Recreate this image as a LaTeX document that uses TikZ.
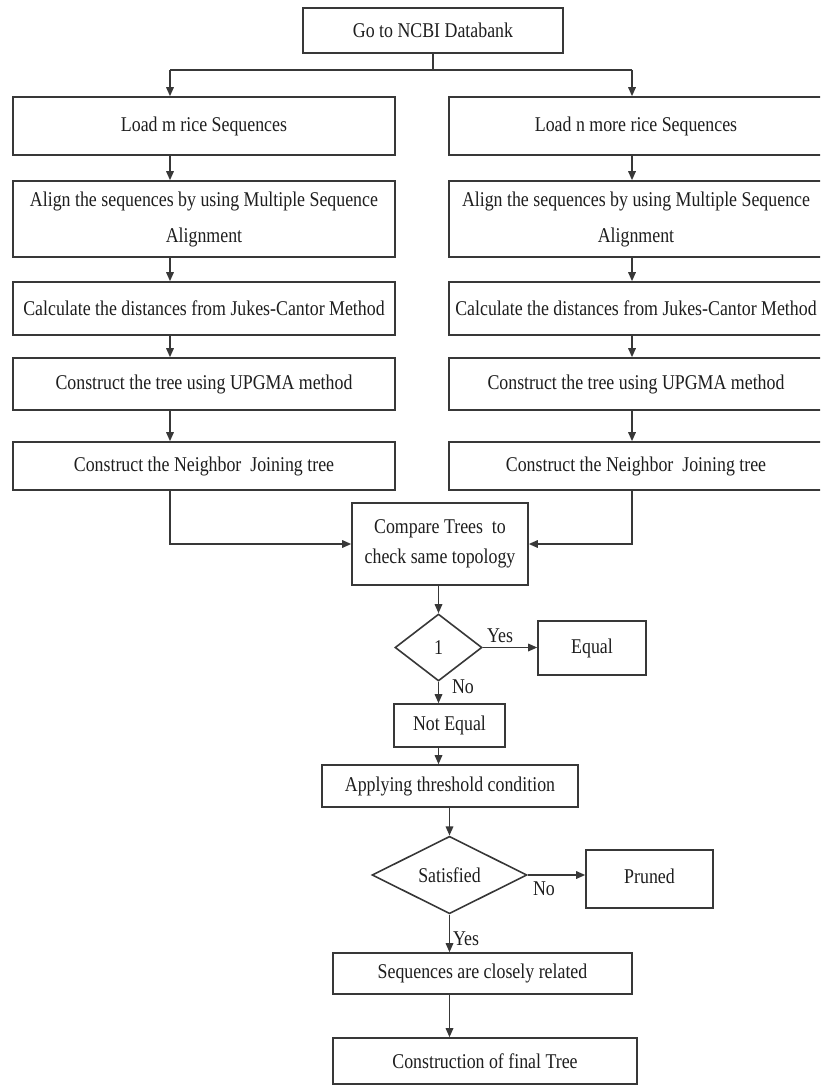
\documentclass[tikz,border=0pt]{standalone}
\usepackage{fontspec}
\setmainfont{Liberation Serif}[FakeStretch=0.85]
\usetikzlibrary{arrows.meta,shapes.geometric}
\definecolor{lncol}{HTML}{383838}
\definecolor{txcol}{HTML}{1E1E1E}
\begin{document}
\begin{tikzpicture}[x=1pt,y=-1pt,
  box/.style={draw=lncol,line width=1.6pt,inner sep=0pt,text=txcol,align=center,font=\fontsize{21}{36}\selectfont},
  dia/.style={draw=lncol,line width=1.6pt,diamond,inner sep=0pt,text=txcol,font=\fontsize{21}{24}\selectfont},
  conn/.style={draw=lncol,line width=1.6pt},
  arr/.style={draw=lncol,line width=1.6pt,-{Triangle[length=9pt,width=7.5pt]}},
  lab/.style={text=txcol,inner sep=0pt,font=\fontsize{21}{24}\selectfont}]
\useasboundingbox (0,0) rectangle (820,1086);
\clip (0,0) rectangle (820,1086);
\fill[white] (0,0) rectangle (820,1086);

\node[box,minimum width=260,minimum height=45] (top) at (433,30.5) {Go to NCBI Databank};

\node[box,minimum width=382,minimum height=58] (L1) at (204,126) {\raisebox{4pt}{Load m rice Sequences}};
\node[box,minimum width=374,minimum height=58] (R1) at (636,126) {\raisebox{4pt}{Load n more rice Sequences}};
\node[box,minimum width=382,minimum height=76] (L2) at (204,219) {Align the sequences by using Multiple Sequence\\Alignment};
\node[box,minimum width=374,minimum height=76] (R2) at (636,219) {Align the sequences by using Multiple Sequence\\Alignment};
\node[box,minimum width=382,minimum height=53] (L3) at (204,308.5) {Calculate the distances from Jukes-Cantor Method};
\node[box,minimum width=374,minimum height=53] (R3) at (636,308.5) {Calculate the distances from Jukes-Cantor Method};
\node[box,minimum width=382,minimum height=52] (L4) at (204,384) {Construct the tree using UPGMA method};
\node[box,minimum width=374,minimum height=52] (R4) at (636,384) {Construct the tree using UPGMA method};
\node[box,minimum width=382,minimum height=48] (L5) at (204,466) {Construct the Neighbor\ \ Joining tree};
\node[box,minimum width=374,minimum height=48] (R5) at (636,466) {Construct the Neighbor\ \ Joining tree};

\node[box,minimum width=176,minimum height=82,font=\fontsize{21}{30}\selectfont] (cmp) at (440,544) {Compare Trees\ \ to\\check same topology};
\node[dia,minimum width=87,minimum height=67] (d1) at (438.5,647.5) {1};
\node[box,minimum width=108,minimum height=54] (eq) at (592,648) {Equal};
\node[box,minimum width=111,minimum height=43] (neq) at (449.5,725.5) {Not Equal};
\node[box,minimum width=256,minimum height=42] (thr) at (450,786) {Applying threshold condition};
\node[dia,minimum width=155,minimum height=64] (d2) at (449.5,875) {Satisfied};
\node[box,minimum width=127,minimum height=58] (pr) at (649.5,879) {\raisebox{6pt}{Pruned}};
\node[box,minimum width=299,minimum height=41] (seq) at (482.5,973.5) {Sequences are closely related};
\node[box,minimum width=304,minimum height=46] (fin) at (485,1061) {Construction of final Tree};

\coordinate (cl) at (170,0);
\coordinate (cr) at (632,0);
\coordinate (jl) at (170,70);
\coordinate (jr) at (632,70);

\draw[conn] (top.south) -- (top.south |- jl);
\draw[conn] (jl) -- (jr);
\draw[arr] (jl) -- (L1.north -| jl);
\draw[arr] (jr) -- (R1.north -| jr);
\draw[arr] (L1.south -| cl) -- (L2.north -| cl);
\draw[arr] (L2.south -| cl) -- (L3.north -| cl);
\draw[arr] (L3.south -| cl) -- (L4.north -| cl);
\draw[arr] (L4.south -| cl) -- (L5.north -| cl);
\draw[arr] (R1.south -| cr) -- (R2.north -| cr);
\draw[arr] (R2.south -| cr) -- (R3.north -| cr);
\draw[arr] (R3.south -| cr) -- (R4.north -| cr);
\draw[arr] (R4.south -| cr) -- (R5.north -| cr);
\draw[arr] (L5.south -| cl) |- (cmp.west);
\draw[arr] (R5.south -| cr) |- (cmp.east);

\draw[arr] (cmp.south -| d1.north) -- (d1.north);
\draw[arr] (d1.east) -- (eq.west |- d1.east);
\draw[arr] (d1.south) -- (neq.north -| d1.south);
\draw[arr] (neq.south -| d1.south) -- (thr.north -| d1.south);
\draw[arr] (thr.south -| d2.north) -- (d2.north);
\draw[arr] (d2.east) -- (pr.west |- d2.east);
\draw[arr] (d2.south) -- (seq.north -| d2.south);
\draw[arr] (seq.south -| d2.south) -- (fin.north -| d2.south);

\node[lab] (y1) at (500,636) {Yes};
\node[lab] (n1) at (463,687) {No};
\node[lab] (n2) at (544,889) {No};
\node[lab] (y2) at (466,939) {Yes};
\end{tikzpicture}
\end{document}
